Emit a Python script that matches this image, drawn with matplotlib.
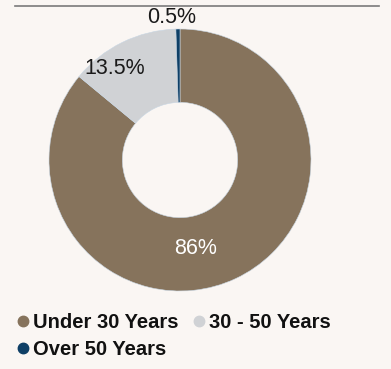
import matplotlib
matplotlib.use("Agg")
from matplotlib import pyplot as plt
from matplotlib.lines import Line2D

categories = ["Under 30 Years", "30 - 50 Years", "Over 50 Years"]
shares = [86.0, 13.5, 0.5]
share_labels = ["86%", "13.5%", "0.5%"]
colors = ["#86735c", "#d0d2d5", "#0e3f66"]

plt.rcParams["font.family"] = ["Liberation Sans", "DejaVu Sans"]
bg = "#faf6f3"

fig = plt.figure(figsize=(3.91, 3.69), dpi=100, facecolor=bg)
ax = fig.add_axes([49 / 391, 78 / 369, 262 / 391, 262 / 369])
ax.set_facecolor(bg)

ax.pie(
    shares,
    colors=colors,
    startangle=90,
    counterclock=False,
    radius=1.0,
    wedgeprops=dict(width=0.56, linewidth=0.4, edgecolor="#c8d6e3"),
)
ax.set_xlim(-1, 1)
ax.set_ylim(-1, 1)
ax.set_aspect("equal")
ax.axis("off")

label_pos = [(0.115, -0.672), (-0.496, 0.7), (-0.061, 1.09)]
label_colors = ["white", "#1a1a1a", "#1a1a1a"]
for text, (x, y), c in zip(share_labels, label_pos, label_colors):
    ax.text(x, y, text, ha="center", va="center", fontsize=15.5, color=c, clip_on=False)

# rule across the top
fig.add_artist(Line2D([15 / 391, 379 / 391], [1 - 5.5 / 369] * 2,
                      color="#7a7a7a", linewidth=1.2, transform=fig.transFigure))

handles = [
    Line2D([], [], marker="o", linestyle="none", markersize=7.5,
           markerfacecolor=c, markeredgecolor=c)
    for c in colors
]
order = [0, 2, 1]
leg = fig.legend(
    [handles[i] for i in order],
    [categories[i] for i in order],
    loc="upper left",
    bbox_to_anchor=(18 / 391, 1 - 313 / 369),
    ncol=2,
    frameon=False,
    prop=dict(size=14.5, weight="bold"),
    handlelength=0.5,
    handletextpad=0.25,
    columnspacing=0.75,
    labelspacing=0.42,
    borderaxespad=0,
    borderpad=0.0,
)
for t in leg.get_texts():
    t.set_color("#111111")

fig.savefig("out.png", dpi=100, facecolor=bg)
